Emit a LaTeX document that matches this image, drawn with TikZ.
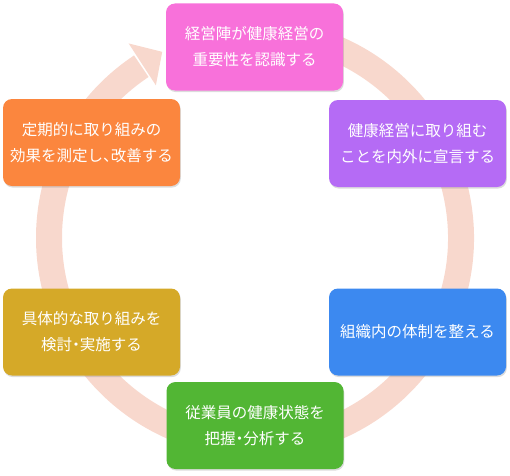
\documentclass[tikz,border=0pt]{standalone}
\usepackage{fontspec}
\setmainfont{Noto Sans CJK JP}
\usetikzlibrary{shadows,calc}
\definecolor{ringc}{RGB}{248,216,205}
\definecolor{cpink}{RGB}{248,113,218}
\definecolor{corange}{RGB}{251,134,62}
\definecolor{cpurple}{RGB}{181,107,245}
\definecolor{cgold}{RGB}{213,169,40}
\definecolor{cblue}{RGB}{60,137,240}
\definecolor{cgreen}{RGB}{82,182,52}
\newcommand{\hw}[1]{{\addfontfeatures{RawFeature=+halt}#1}}
\tikzset{
  stepbox/.style={rounded corners=9pt, minimum width=177pt, minimum height=87pt,
    text=white, align=center, inner sep=0pt,
    font=\fontsize{15.5pt}{26pt}\selectfont,
    drop shadow={opacity=0.28, shadow xshift=0.8pt, shadow yshift=-1.6pt}},
}
\begin{document}
\begin{tikzpicture}[x=1pt,y=1pt]
\useasboundingbox (0,0) rectangle (510,475);
\coordinate (c) at (255,237);
% ring arrow
\draw[line width=26pt, ringc] ($(c)+(100:206)$) arc[start angle=100, end angle=-236.5, radius=206];
\fill[ringc] ($(c)+(123:182)$) -- ($(c)+(123:232)$) -- ($(c)+(116.5:208)$) -- cycle;
% boxes
\node[stepbox, fill=cpink]   (s1) at (254.5,428) {経営陣が健康経営の\\重要性を認識する};
\node[stepbox, fill=cpurple] (s2) at (417.5,331.5) {健康経営に取り組む\\ことを内外に宣言する};
\node[stepbox, fill=cblue]   (s3) at (417.5,143) {組織内の体制を整える};
\node[stepbox, fill=cgreen]  (s4) at (255,49.5) {従業員の健康状態を\\把握\hw{・}分析する};
\node[stepbox, fill=cgold]   (s5) at (91.5,143) {具体的な取り組みを\\検討\hw{・}実施する};
\node[stepbox, fill=corange] (s6) at (91.5,332.5) {定期的に取り組みの\\効果を測定し\hw{、}改善する};
\end{tikzpicture}
\end{document}
